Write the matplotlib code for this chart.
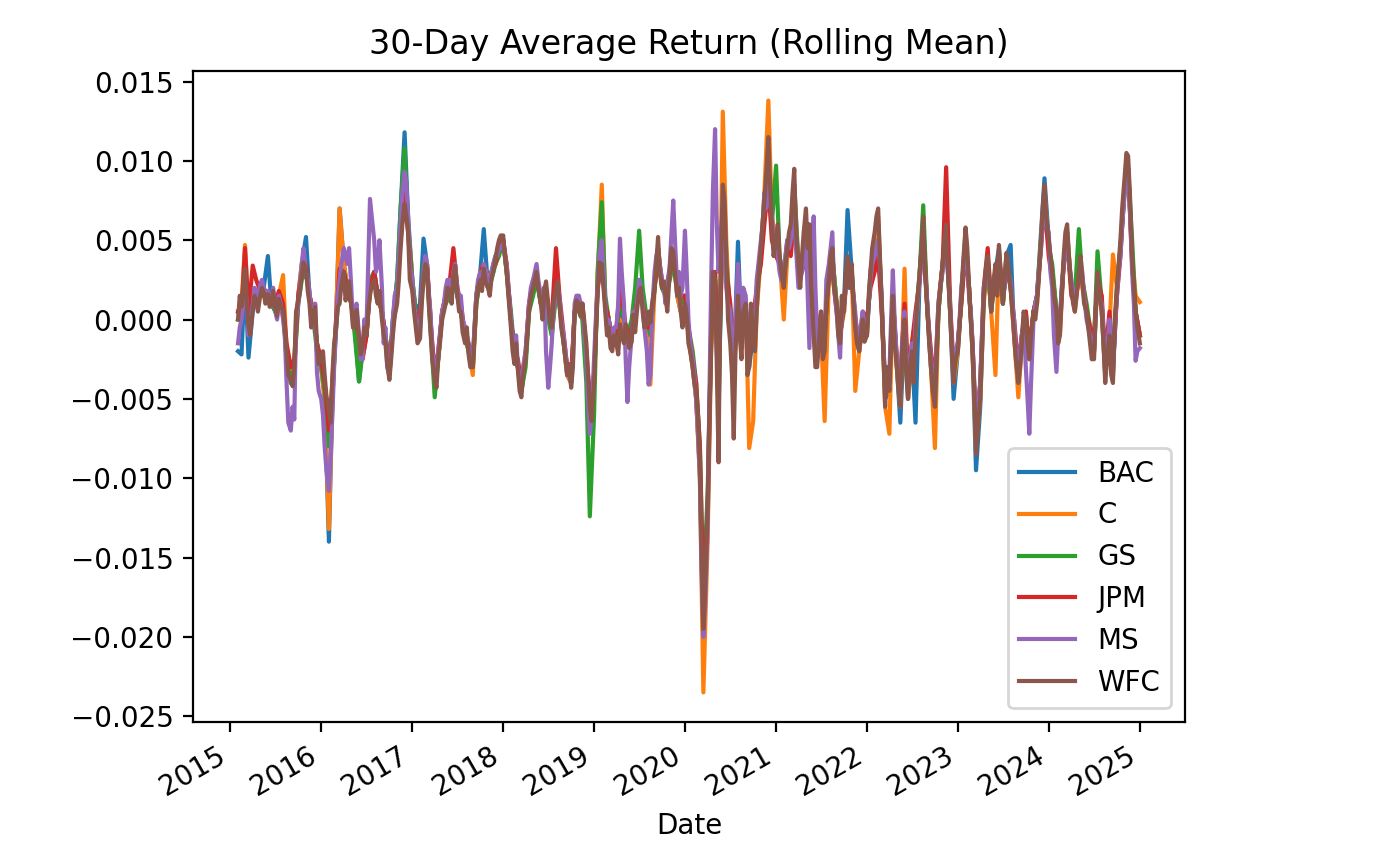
import matplotlib
matplotlib.use("Agg")
import matplotlib.pyplot as plt
import matplotlib.dates as mdates
import pandas as pd
import numpy as np

# Semi-monthly sample dates (1st and 15th), Feb 2015 - Jan 2025
dates = pd.date_range("2015-02-01", "2025-01-01", freq="SMS")
# extra in-between samples (one week after each semi-monthly date) for WFC and MS
mid_dates = dates[:-1] + pd.Timedelta(days=7)

tickers = ["BAC", "C", "GS", "JPM", "MS", "WFC"]

# 30-day rolling mean return, in units of 0.001, one row per year
bac_milli = [
    [-2.0, -2.2, 3.0, -2.4, 0.5, 1.5, 1.5, 2.0, 4.0, 1.0, 0.5, 1.5, 1.0, -2.5, -4.0, -3.0, 1.5, 3.5, 5.2, 1.5, 0.5, -1.5],
    [-3.0, -5.0, -14.0, -5.0, 0.0, 7.0, 3.5, 2.0, 1.0, -0.5, -3.9, -2.0, -1.0, 2.0, 3.0, 1.5, 0.5, -1.0, -3.5, 0.0, 2.5, 7.0, 11.8, 6.5],
    [2.5, 0.5, 1.0, 5.1, 3.5, 0.0, -4.0, -2.5, 0.5, 1.5, 2.0, 3.0, 1.5, 0.5, -1.0, -2.0, -3.0, 1.5, 3.0, 5.7, 2.0, 3.0, 4.0, 4.5],
    [5.0, 3.0, 0.0, -2.0, -3.0, -4.5, -2.5, 1.0, 2.0, 3.0, 1.0, 2.0, 0.5, -0.5, 2.0, 1.0, -1.5, -3.5, -4.0, 0.5, 1.0, 0.5, -3.0, -6.0],
    [-4.0, 2.0, 4.0, 1.0, 0.0, -1.5, -1.0, 0.5, -0.5, -1.0, -0.5, 0.5, 2.0, 1.0, -0.5, -1.0, 2.0, 4.5, 2.0, 1.5, 3.0, 4.0, 1.5, 0.5],
    [1.5, -1.0, -3.0, -5.0, -9.5, -20.0, -13.0, -1.5, 2.5, -6.0, 8.0, 4.0, 0.0, -3.0, 4.9, -1.0, 1.0, -3.0, -1.0, 1.0, 4.5, 7.5, 10.0, 6.0],
    [5.0, 4.0, 2.0, 4.5, 5.5, 8.5, 3.5, 3.5, 6.0, 5.0, -0.5, -2.0, 0.0, -2.0, 3.0, 4.0, 1.0, -1.0, 1.0, 6.9, 3.0, -1.0, -2.0, 0.0],
    [-1.0, 3.0, 5.0, 6.0, 1.0, -5.0, -4.5, 1.5, -3.0, -6.5, 0.0, -5.0, -2.0, -6.5, 3.0, 6.0, 0.5, -3.0, -5.5, 0.5, 3.5, 6.0, 0.5, -5.0],
    [-2.0, 1.5, 5.5, 2.0, -2.0, -9.5, -5.5, 1.5, 3.5, 0.5, 3.0, 4.5, 1.0, 4.0, 4.7, -1.0, -4.0, -1.5, 0.0, -2.5, 0.5, 1.5, 5.5, 8.9],
    [5.0, 3.0, 0.5, -0.5, 3.5, 5.5, 2.0, 1.0, 3.0, 2.5, 0.5, -1.0, -2.0, 3.0, 0.5, -3.5, -0.5, -3.5, 2.0, 4.5, 8.5, 9.5, 4.0, 0.5],
    [-1.0],
]
c_milli = [
    [0.5, 1.0, 4.7, 0.5, 1.0, 1.5, 1.5, 1.5, 1.5, 1.5, 1.5, 1.5, 2.8, -2.0, -3.5, -3.0, 1.5, 3.5, 3.0, 1.5, 0.5, -1.5],
    [-3.0, -5.0, -13.2, -5.0, 0.0, 7.0, 3.5, 2.0, 1.0, -0.5, -1.5, -2.5, -1.0, 2.0, 3.0, 1.5, 0.5, -1.0, -3.5, -0.5, 2.0, 6.0, 9.0, 6.0],
    [2.5, 0.0, 0.0, 3.0, 3.5, -0.5, -4.0, -2.5, 0.5, 1.5, 2.0, 3.0, 1.5, 0.5, -1.0, -2.0, -3.5, 1.0, 3.0, 3.5, 2.5, 3.0, 3.5, 4.5],
    [5.0, 3.0, 0.0, -2.0, -3.0, -4.5, -2.5, 1.0, 2.0, 3.0, 1.0, 2.0, 0.5, -1.0, 2.0, 1.0, -1.5, -3.5, -4.0, 0.5, 1.0, 1.0, -3.0, -6.0],
    [-4.0, 2.5, 8.5, 1.0, 0.0, -1.5, -1.0, 0.0, -1.0, -1.0, -0.5, 0.5, 2.5, 1.0, -1.0, -4.1, 2.0, 4.5, 2.0, 1.5, 3.0, 4.0, 1.5, 0.5],
    [1.5, -1.0, -3.0, -5.0, -10.0, -23.5, -14.0, -2.0, 2.5, -6.0, 13.1, 5.0, -1.0, -4.0, 2.0, -1.0, 1.0, -8.1, -6.4, 0.5, 4.0, 8.0, 13.8, 6.5],
    [5.0, 4.0, 0.0, 4.0, 5.5, 8.5, 3.0, 3.5, 6.0, 4.5, -0.5, -2.0, -1.0, -6.4, 2.5, 4.0, 1.0, -1.0, 0.5, 3.5, 3.0, -4.5, -2.0, 0.0],
    [-1.0, 3.0, 5.0, 6.5, 1.0, -5.5, -7.2, 1.5, -3.0, -5.5, 3.2, -5.0, -2.0, -1.0, 3.0, 6.0, 0.5, -3.0, -8.1, 0.5, 3.5, 6.0, 0.5, -4.0],
    [-2.0, 1.5, 5.0, 2.0, -2.0, -8.0, -5.0, 1.0, 3.5, 0.5, -3.5, 4.0, 1.0, 4.0, 2.0, -1.0, -4.9, -1.5, 0.0, -2.5, 0.5, 1.0, 5.0, 8.0],
    [4.5, 3.0, 0.5, -1.0, 3.5, 5.5, 2.0, 0.5, 3.0, 2.0, 0.5, -1.0, -2.0, 2.5, 0.5, -3.5, -0.5, 4.1, 2.0, 4.5, 8.5, 9.5, 4.0, 1.5],
    [1.1],
]
gs_milli = [
    [0.0, 0.5, 2.5, 0.0, 1.5, 1.8, 1.8, 1.5, 1.2, 1.0, 0.5, 1.0, 0.5, -2.5, -4.0, -3.0, 1.0, 2.5, 3.0, 1.5, 0.0, -2.0],
    [-3.0, -4.5, -8.0, -4.5, -0.5, 2.5, 3.0, 2.0, 1.0, -1.0, -3.9, -2.0, -1.0, 2.5, 3.0, 1.5, 0.5, -1.0, -3.0, 0.0, 2.5, 7.0, 10.8, 6.0],
    [2.5, 0.5, 0.0, 3.5, 3.0, -0.5, -4.9, -2.5, 0.5, 1.0, 1.5, 2.5, 1.5, 0.5, -1.0, -2.0, -3.0, 1.0, 2.5, 3.0, 2.0, 2.5, 3.5, 4.0],
    [5.0, 3.0, 0.5, -2.0, -3.0, -4.5, -3.0, 0.5, 1.5, 2.5, 1.0, 1.5, 0.0, -1.0, 1.5, 1.0, -1.5, -3.0, -4.0, 0.5, 0.5, 0.0, -4.0, -12.4],
    [-6.0, 3.0, 7.4, 1.5, 0.0, -1.5, -1.0, 1.5, 0.0, -1.0, 0.0, 2.0, 5.6, 2.0, 0.0, -1.0, 2.0, 4.0, 2.0, 1.5, 2.5, 3.5, 2.0, 1.0],
    [1.5, -0.5, -2.0, -4.0, -8.0, -17.0, -11.0, -1.0, 3.0, -5.0, 7.0, 3.5, 0.5, -3.0, 2.0, -1.0, 0.5, -2.0, 0.0, 1.5, 4.0, 7.0, 9.5, 6.0],
    [9.7, 4.0, 2.5, 4.5, 5.0, 8.0, 3.0, 3.5, 5.0, 4.0, -0.5, -1.5, 0.0, -1.0, 3.0, 4.0, 1.0, -1.0, 1.0, 3.5, 3.0, 0.0, -1.5, 0.0],
    [-0.5, 2.5, 4.0, 5.0, 1.0, -4.5, -4.0, 1.0, -2.5, -4.5, 0.5, -4.0, -1.5, 0.0, 3.0, 7.2, 0.5, -2.5, -5.0, 0.5, 3.5, 5.5, 0.5, -3.5],
    [-1.5, 1.0, 4.5, 2.0, -1.5, -7.5, -4.0, 1.5, 3.5, 0.5, 3.0, 4.0, 1.0, 3.5, 2.0, -0.5, -3.5, -1.0, 0.5, -2.0, 0.5, 1.5, 5.0, 7.5],
    [4.5, 3.5, 0.5, 0.0, 3.5, 5.0, 2.0, 1.5, 5.7, 2.5, 1.0, -0.5, -1.5, 4.3, 1.0, -3.0, 0.0, -3.0, 2.0, 4.5, 8.0, 9.5, 5.0, 0.5],
    [-1.0],
]
jpm_milli = [
    [0.5, 0.5, 4.5, 0.5, 3.4, 2.5, 1.8, 2.0, 1.5, 1.5, 1.0, 1.8, 1.0, -1.5, -3.0, -2.5, 1.5, 3.0, 3.5, 1.5, 0.5, -1.5],
    [-2.5, -4.0, -7.0, -4.0, 0.0, 3.2, 3.0, 2.0, 1.0, 0.0, -1.0, -2.5, -1.0, 2.0, 3.0, 1.5, 0.5, -1.0, -3.0, -0.5, 1.5, 5.0, 8.0, 5.5],
    [2.0, 0.0, 0.5, 3.0, 3.5, 0.0, -3.5, -2.0, 0.5, 1.5, 2.5, 4.5, 2.0, 1.0, -1.0, -1.5, -2.5, 1.5, 3.0, 3.5, 2.0, 3.0, 3.5, 4.5],
    [5.0, 3.5, 0.0, -2.0, -2.5, -4.0, -2.0, 1.0, 2.5, 2.5, 1.5, 2.0, 0.5, 0.0, 4.5, 1.5, -1.0, -3.0, -3.5, 0.5, 1.0, 1.0, -2.0, -5.0],
    [-3.5, 2.0, 3.5, 1.0, 0.0, -1.5, -0.5, 2.0, 0.5, -1.5, -0.5, 0.5, 2.0, 1.0, -0.5, -0.5, 2.0, 4.0, 2.5, 2.0, 3.0, 4.0, 2.0, 1.5],
    [1.5, -0.5, -2.5, -4.0, -8.0, -18.0, -12.0, -1.0, 3.0, -4.0, 6.5, 3.0, 1.0, -2.0, 2.0, -0.5, 0.5, -2.5, 0.0, 2.0, 3.5, 6.0, 8.5, 5.0],
    [4.0, 3.5, 3.0, 5.0, 4.0, 6.5, 3.0, 3.0, 4.0, 2.5, 0.0, -1.0, 0.5, -1.0, 3.0, 3.0, 0.5, -1.0, 1.0, 3.0, 2.5, 0.0, -1.5, 0.5],
    [0.0, 2.0, 3.0, 4.0, 0.5, -4.0, -4.0, 1.5, -2.5, -4.0, 1.0, -3.5, -1.5, 0.5, 2.5, 5.5, 0.5, -2.0, -4.0, 1.0, 3.5, 9.6, 1.0, -3.0],
    [-1.5, 1.0, 4.5, 2.0, -1.5, -7.0, -4.0, 2.0, 4.5, 1.0, 2.5, 4.0, 1.5, 3.5, 2.0, 0.0, -3.0, -1.0, 0.5, -2.0, 0.5, 1.5, 4.5, 7.5],
    [4.0, 2.5, 0.0, 0.0, 3.5, 5.0, 1.5, 1.0, 2.5, 2.5, 0.5, -0.5, -1.0, 2.5, 1.5, -2.5, 0.5, -3.0, 1.5, 4.0, 8.5, 9.5, 3.5, 0.5],
    [-1.0],
]
ms_milli = [
    [-1.5, 0.0, 2.0, -1.0, 1.0, 1.8, 2.2, 2.0, 1.8, 1.2, 0.5, 1.5, 0.0, -4.0, -7.0, -6.3, 1.0, 3.5, 3.0, 1.8, -0.5, -3.3],
    [-5.0, -8.0, -10.8, -6.0, -0.5, 2.5, 4.5, 3.5, 2.0, 0.5, -1.0, -2.5, -0.5, 7.6, 5.0, 3.5, 2.0, -0.5, -3.5, 0.0, 2.0, 6.0, 9.3, 6.5],
    [2.5, 0.0, -0.5, 3.0, 3.5, 0.5, -3.0, -2.0, 0.5, 2.0, 2.5, 3.0, 2.0, 1.5, -0.5, -1.5, -2.5, 1.5, 3.0, 3.5, 2.5, 3.0, 4.0, 4.5],
    [4.8, 3.5, 0.0, -2.0, -3.0, -4.0, -2.0, 1.0, 2.5, 3.5, 1.5, 2.0, -4.3, -1.5, 1.5, 1.5, -1.0, -3.0, -3.8, 1.0, 1.5, 1.0, -2.5, -7.2],
    [-2.5, 2.0, 5.0, 1.0, 0.0, -1.5, -0.5, 5.1, 1.0, -5.2, -1.0, 0.0, 2.5, 1.0, -2.0, -3.5, 3.0, 4.5, 2.5, 1.0, 3.5, 7.5, 2.0, 1.5],
    [5.6, 0.0, -2.5, -5.0, -10.0, -20.0, -13.0, 2.0, 12.0, 3.0, 7.0, 2.0, 0.5, -3.0, 3.5, 0.0, 1.5, -1.0, 0.5, 2.5, 5.0, 8.0, 9.0, 6.5],
    [4.5, 3.0, 3.0, 5.0, 5.0, 7.0, 2.0, 3.0, 5.0, -1.8, 6.5, -1.0, -0.5, -1.5, 3.5, 5.5, 0.5, -2.4, 1.0, 3.0, 2.5, 0.5, -1.5, 0.5],
    [-0.5, 2.5, 4.0, 5.0, 1.5, -4.0, -3.5, 3.1, -2.5, -4.5, 0.5, -4.0, -1.5, 0.0, 2.5, 5.5, 1.0, -2.5, -4.5, 1.0, 3.0, 5.0, 1.0, -3.5],
    [-1.5, 2.0, 4.5, 1.5, -1.5, -7.5, -4.0, 2.0, 3.0, 1.0, 3.0, 3.5, 1.5, 3.5, 2.5, 0.0, -3.0, -1.0, -3.0, -7.2, 0.0, 1.5, 4.5, 7.0],
    [5.5, 2.0, -3.3, 0.0, 3.5, 5.0, 2.5, 1.0, 2.5, 3.0, 0.0, -1.0, -2.0, 2.5, 1.0, -3.0, 0.0, -3.5, 1.5, 4.0, 8.0, 9.5, 3.0, -2.6],
    [-1.8],
]
ms_mid_milli = [
    [-0.5, 1.0, 1.2, -0.5, 2.0, 1.0, 2.5, 1.5, 1.0, 2.0, 0.0, 1.0, -1.0, -6.5, -5.5, 0.0, 2.0, 4.5, 2.5, 0.5, 1.0, -4.5],
    [-6.0, -9.5, -8.5, -3.0, 1.5, 3.5, 4.0, 4.5, -0.5, 1.0, -2.5, 0.0, 3.5, 6.5, 3.0, 5.0, -1.5, -3.0, -2.0, 1.5, 4.0, 8.0, 8.5, 3.5],
    [1.0, -1.0, 1.5, 4.0, 1.5, -2.0, -3.5, -1.0, 1.0, 2.5, 1.5, 3.5, 1.0, 0.0, -1.0, -2.5, -0.5, 2.5, 2.5, 3.0, 2.0, 3.5, 4.0, 4.5],
    [4.0, 2.0, -1.5, -1.0, -4.0, -3.0, -0.5, 2.0, 3.0, 2.5, 0.5, -2.0, -3.0, 0.5, 2.0, 0.0, -2.0, -3.5, -2.5, 1.5, 1.0, -0.5, -5.0, -6.0],
    [0.0, 4.0, 3.0, -0.5, -1.0, -0.5, 1.0, 3.0, -2.5, -3.0, 0.5, 1.0, 2.0, -0.5, -4.1, 0.5, 4.0, 3.5, 2.0, 2.0, 5.5, 5.0, 3.0, 2.0],
    [3.0, -1.5, -3.5, -7.0, -16.0, -18.0, -5.0, 8.0, 6.0, 5.0, 4.5, 1.0, -2.0, 0.0, 1.5, 2.0, -1.0, 0.5, -0.5, 3.5, 6.0, 7.0, 7.5, 5.0],
    [4.0, 2.5, 4.0, 4.5, 6.0, 4.5, 2.5, 4.0, 1.5, 3.0, 2.0, -2.0, -1.0, 2.5, 4.5, 2.0, -1.0, 0.5, 2.0, 2.0, 1.5, -1.0, -0.5, -0.5],
    [1.0, 3.5, 4.5, 3.5, -1.5, -3.0, 0.0, 0.0, -3.5, -1.5, -2.5, -2.5, -3.0, 1.0, 4.0, 3.0, -1.0, -3.5, -1.5, 2.0, 4.0, 3.0, -1.5, -2.0],
    [0.0, 3.0, 3.5, 0.5, -4.0, -6.0, -1.0, 2.5, 2.0, 2.5, 2.0, 2.5, 2.0, 3.0, 1.0, -2.0, -2.0, 0.0, -5.0, -4.0, 1.0, 3.0, 6.0, 6.0],
    [3.0, -1.0, -1.0, 2.0, 4.5, 3.5, 1.5, 2.0, 3.5, 1.5, -0.5, -1.5, 0.5, 1.5, -1.0, -2.0, -2.5, -0.5, 3.0, 6.0, 9.0, 7.0, 1.0, -2.0],
]
wfc_milli = [
    [0.0, 0.8, 3.2, -0.4, 0.6, 1.2, 1.5, 1.7, 1.6, 0.9, 0.7, 1.3, 0.6, -2.0, -3.8, -3.0, 1.2, 2.8, 3.2, 1.0, 0.5, -1.5],
    [-2.5, -3.5, -5.8, -3.5, -0.5, 1.0, 3.0, 2.0, 0.8, 0.0, -1.2, -1.8, -1.0, 1.5, 2.5, 1.0, 0.0, -1.5, -3.8, -1.0, 1.0, 4.5, 7.3, 5.5],
    [1.8, -0.5, -1.2, 2.5, 3.2, -0.8, -3.8, -2.5, 0.0, 1.0, 1.8, 2.8, 1.5, 0.5, -1.5, -2.2, -3.0, 1.0, 2.5, 3.2, 2.0, 2.6, 3.8, 5.0],
    [5.3, 3.0, -0.5, -2.8, -3.2, -4.9, -2.5, 0.5, 2.0, 3.0, 1.0, 1.8, 1.0, -0.5, 2.0, 1.0, -1.5, -3.5, -4.3, 0.5, 1.0, 1.0, -1.5, -5.5],
    [-4.0, 1.5, 3.5, 0.5, -0.5, -2.0, -1.5, -0.3, -1.5, -0.8, -1.4, -0.8, 1.8, 0.5, -0.3, -0.2, 2.0, 5.2, 2.0, 1.5, 3.0, 4.3, 1.5, 0.5],
    [1.0, -1.5, -3.0, -4.5, -9.0, -19.5, -12.0, -2.0, 2.5, -9.0, 8.5, 4.0, -1.5, -7.5, 1.5, -2.5, 1.0, -3.0, -1.0, 0.5, 4.5, 7.5, 11.5, 6.0],
    [5.0, 4.0, 2.0, 4.5, 6.0, 9.5, 3.5, 4.0, 7.0, 6.0, -1.0, -3.0, 0.5, -2.0, 2.5, 4.5, 1.0, -1.5, 0.5, 4.0, 3.5, -0.5, -2.0, 0.0],
    [-1.0, 3.0, 5.5, 7.0, 1.0, -5.5, -4.5, 1.5, -3.0, -5.5, 0.0, -5.0, -2.0, -1.0, 3.0, 6.5, 0.5, -3.0, -5.5, 0.5, 3.5, 6.0, 0.5, -4.0],
    [-2.0, 1.5, 5.8, 2.0, -2.0, -8.5, -5.0, 1.5, 4.0, 0.5, 3.5, 4.7, 1.0, 4.2, 2.0, -1.0, -4.0, -1.5, 0.0, -2.5, 0.5, 1.0, 5.0, 8.5],
    [5.0, 3.0, 0.5, -1.0, 4.0, 6.0, 2.0, 0.5, 3.0, 2.5, 0.5, -1.5, -2.5, 3.0, 0.5, -4.0, -1.0, -4.0, 2.0, 5.0, 9.0, 10.3, 4.0, 0.5],
    [-1.5],
]
wfc_mid_milli = [
    [1.5, 2.0, 1.0, -1.0, 1.5, 0.5, 2.0, 1.0, 0.8, 1.8, 0.2, 0.8, -0.5, -3.5, -4.2, 0.5, 1.8, 3.6, 1.8, -0.5, 0.8, -2.8],
    [-2.0, -4.8, -6.5, -1.5, 0.8, 2.2, 1.2, 2.4, -0.5, 0.6, -2.2, -0.5, 0.5, 2.2, 1.5, 1.8, -1.0, -2.8, -2.5, 0.2, 2.5, 6.0, 6.5, 2.5],
    [0.5, -1.5, 1.0, 3.5, 1.0, -2.5, -4.3, -1.5, 0.5, 2.0, 1.0, 3.4, 0.5, -0.8, -0.5, -3.0, -1.0, 2.0, 1.8, 2.4, 1.5, 3.0, 4.5, 5.3],
    [4.0, 1.5, -2.0, -1.5, -4.5, -3.5, -1.0, 1.5, 2.5, 2.0, 0.0, 2.4, 0.0, 1.0, 2.4, -0.5, -2.5, -2.8, -3.0, 1.2, 0.2, 0.0, -3.5, -6.4],
    [-1.0, 3.6, 2.0, -1.0, -1.8, -1.0, -2.2, -1.0, -0.3, -1.8, 0.3, 0.5, 2.0, -0.5, 0.5, 1.0, 3.5, 3.0, 2.4, 0.5, 4.5, 3.0, 2.0, -0.5],
    [0.3, -2.0, -4.0, -6.0, -15.0, -17.0, -6.0, 3.0, -3.0, 2.0, 7.5, 0.0, -3.5, -2.0, -1.0, 0.5, -3.5, 1.0, -2.0, 2.5, 6.0, 9.0, 8.5, 4.0],
    [6.0, 3.0, 3.5, 5.5, 8.0, 5.5, 2.0, 5.5, 4.5, 2.0, -3.0, -1.5, -2.5, 1.0, 4.0, 2.0, -1.0, 1.5, 3.0, 2.0, 1.0, -1.5, -1.0, -1.4],
    [1.5, 4.5, 6.5, 4.0, -2.0, -3.0, -1.0, -1.5, -4.5, -2.0, -3.5, -3.0, -4.0, 1.0, 4.5, 3.0, -1.5, -4.5, -2.0, 2.0, 5.0, 3.0, -2.0, -2.5],
    [-0.5, 3.5, 4.5, 0.0, -4.5, -7.0, -2.0, 3.0, 2.5, 2.0, 1.5, 3.0, 2.5, 3.5, 0.5, -2.5, -3.0, 0.5, -1.5, -1.0, 0.0, 2.5, 7.0, 6.5],
    [4.0, 1.5, -1.5, 1.5, 5.5, 4.0, 1.0, 1.5, 4.0, 1.0, -0.5, -2.5, 0.5, 2.0, -1.5, -2.5, -3.5, 0.0, 3.5, 7.0, 10.5, 8.0, 2.0, -0.5],
]

main_rows = {"BAC": bac_milli, "C": c_milli, "GS": gs_milli,
             "JPM": jpm_milli, "MS": ms_milli, "WFC": wfc_milli}
mid_rows = {"MS": ms_mid_milli, "WFC": wfc_mid_milli}


def flat(rows):
    return np.concatenate([np.asarray(r, float) for r in rows]) / 1000.0


series = {}
for t in tickers:
    s = pd.Series(flat(main_rows[t]), index=dates)
    if t in mid_rows:
        s = pd.concat([s, pd.Series(flat(mid_rows[t]), index=mid_dates)]).sort_index()
    series[t] = s

plt.rcParams["font.family"] = ["DejaVu Sans"]
fig = plt.figure(figsize=(6.94, 4.24), dpi=200)
ax = fig.add_axes([0.139, 0.1486, 0.7147, 0.7677])

colors = ["#1f77b4", "#ff7f0e", "#2ca02c", "#d62728", "#9467bd", "#8c564b"]
for t, col in zip(tickers, colors):
    s = series[t]
    ax.plot(s.index, s.values, color=col, lw=1.5, label=t)

ax.xaxis.set_major_locator(mdates.YearLocator())
ax.xaxis.set_major_formatter(mdates.DateFormatter("%Y"))
for lab in ax.get_xticklabels():
    lab.set_rotation(30)
    lab.set_ha("right")

ax.set_title("30-Day Average Return (Rolling Mean)", fontsize=12)
ax.set_xlabel("Date")
ax.legend(loc="lower right")

fig.savefig("out.png", dpi=200)
